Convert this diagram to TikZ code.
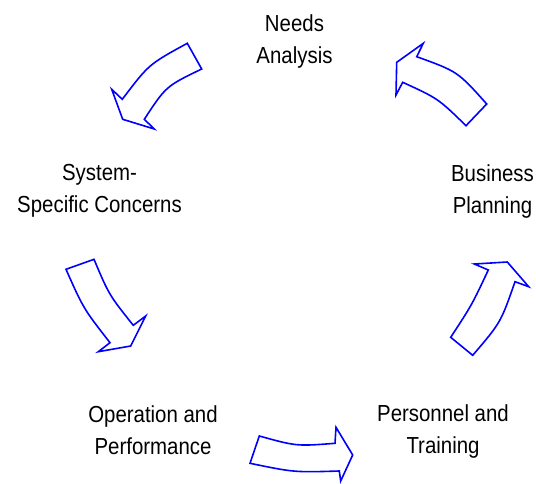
\documentclass[tikz,border=0pt]{standalone}
\usepackage{fontspec}
\setmainfont{Liberation Sans}[FakeStretch=0.88]
\definecolor{arrowblue}{RGB}{0,0,255}
\begin{document}
\begin{tikzpicture}[x=0.75pt,y=-0.75pt,
  cyclearrow/.style={draw=arrowblue,line width=1.2pt,fill=white,line join=miter},
  label/.style={anchor=base,align=center,inner sep=0pt,font=\fontsize{17.4}{24}\selectfont,text=black}]
\useasboundingbox (0,0) rectangle (536,483);
% text nodes (anchor = baseline of the last line)
\node[label] (needs) at (294.5,63.5) {Needs\\Analysis};
\node[label] (system) at (99.5,212) {System-\\Specific Concerns};
\node[label] (business) at (492.5,213.3) {Business\\Planning};
\node[label] (operation) at (153,454) {Operation and\\Performance};
\node[label] (personnel) at (443,453.3) {Personnel and\\Training};
% block arrows
\draw[cyclearrow] (187.3,43.3) -- (201.7,69) .. controls (166,86.2) .. (144.3,119.3)
  -- (154.3,129) -- (122.7,119.3) -- (111.7,89.3) -- (122.3,99.3)
  .. controls (148.8,64.3) .. (187.3,43.3) -- cycle;
\draw[cyclearrow] (466,125.7) -- (486.7,104) .. controls (457.7,71.5) .. (416.7,56.7)
  -- (423.3,43.3) -- (396.7,62.3) -- (396,95) -- (402.7,82.3)
  .. controls (438.1,98.5) .. (466,125.7) -- cycle;
\draw[cyclearrow] (66,269.3) -- (94,259.3) .. controls (109.1,295) .. (133.3,325.3)
  -- (145.7,316) -- (130.7,346) -- (98.3,351.7) -- (110,342.7)
  .. controls (83.5,308.7) .. (66,269.3) -- cycle;
\draw[cyclearrow] (259.3,436) -- (250,463.3) .. controls (294.2,472.4) .. (339.3,471)
  -- (340.7,481) -- (352.7,455) -- (336,427.3) -- (335,443.3)
  .. controls (296.5,446.3) .. (259.3,436) -- cycle;
\draw[cyclearrow] (472.7,355.3) -- (450.7,337.3) .. controls (471.9,304.9) .. (488.3,270)
  -- (474.3,264) -- (507.3,262) -- (528.7,286.7) -- (515,281.7)
  .. controls (500.8,322.5) .. (472.7,355.3) -- cycle;
\end{tikzpicture}
\end{document}
